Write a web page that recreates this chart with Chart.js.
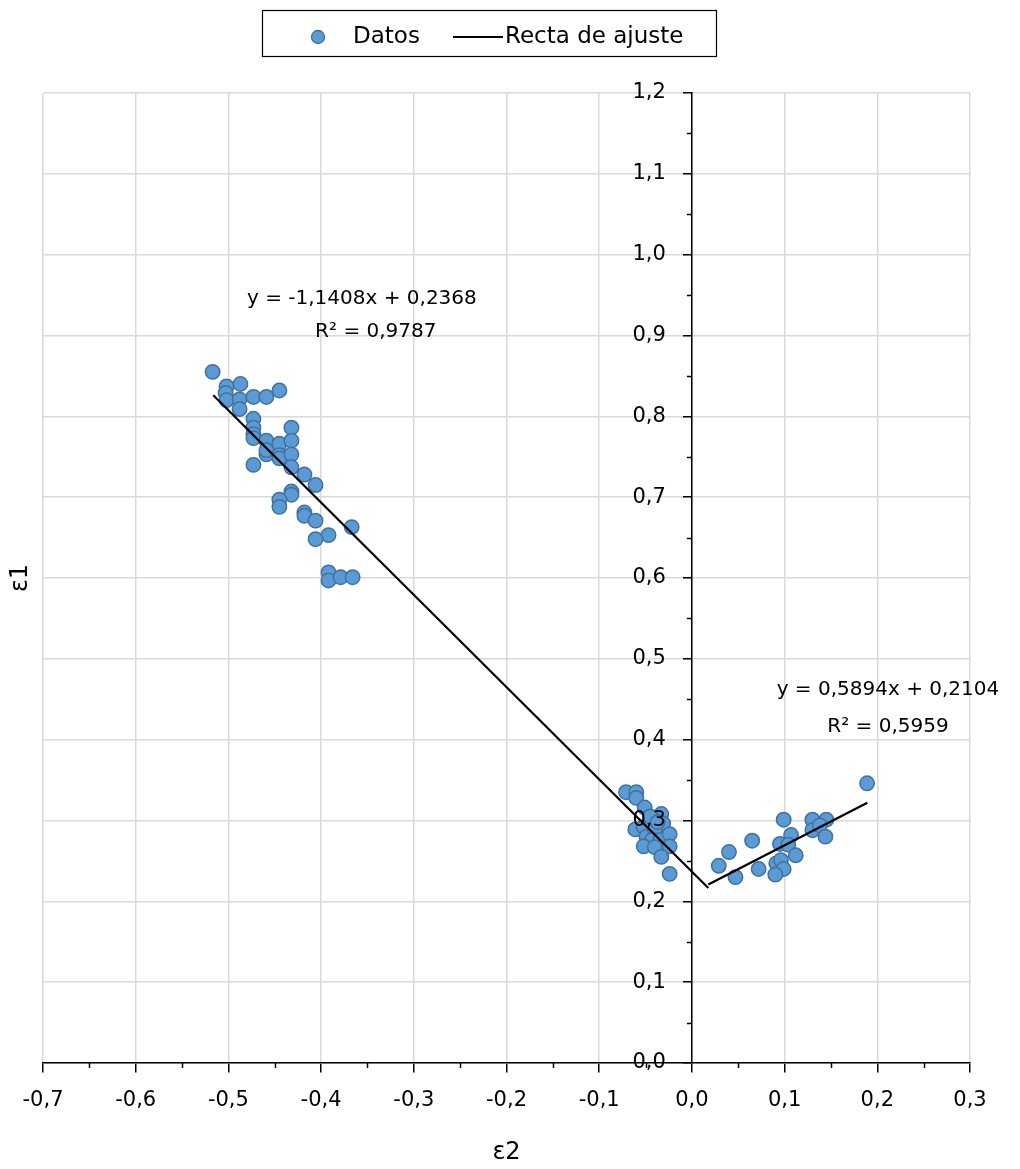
<!DOCTYPE html>
<html lang="es">
<head>
<meta charset="utf-8">
<title>ε1 frente a ε2</title>
<script src="https://cdn.jsdelivr.net/npm/chart.js@4.4.1/dist/chart.umd.min.js"></script>
<style>
  html, body { margin: 0; padding: 0; background: #fff; }
  #wrap { width: 1020px; height: 1169px; }
</style>
</head>
<body>
<div id="wrap"><canvas id="grafico" width="1020" height="1169"></canvas></div>
<script>
// puntos medidos (eps2, eps1)
const datosX = [
  -0.517, -0.502, -0.487, -0.503, -0.502, -0.488, -0.488, -0.473, -0.459, -0.445,
  -0.473, -0.473, -0.473, -0.473, -0.432, -0.459, -0.445, -0.432, -0.459, -0.459,
  -0.445, -0.445, -0.432, -0.473, -0.432, -0.418, -0.406, -0.432, -0.432, -0.445,
  -0.445, -0.418, -0.418, -0.406, -0.367, -0.392, -0.406, -0.392, -0.392, -0.379,
  -0.366,
  -0.071, -0.060, -0.060, -0.051, -0.033, -0.042, -0.061, -0.052, -0.031, -0.049,
  -0.040, -0.043, -0.034, -0.024, -0.052, -0.040, -0.024, -0.033, -0.024, -0.045,
  -0.037,
  0.189, 0.099, 0.130, 0.145, 0.130, 0.138, 0.107, 0.144, 0.095, 0.104,
  0.065, 0.040, 0.112, 0.029, 0.047, 0.072, 0.091, 0.096, 0.099, 0.090
];
const datosY = [
  0.855, 0.837, 0.840, 0.829, 0.820, 0.821, 0.809, 0.824, 0.824, 0.832,
  0.797, 0.786, 0.778, 0.773, 0.786, 0.770, 0.766, 0.770, 0.753, 0.758,
  0.752, 0.748, 0.753, 0.740, 0.737, 0.728, 0.715, 0.707, 0.703, 0.697,
  0.688, 0.681, 0.677, 0.671, 0.663, 0.653, 0.648, 0.607, 0.597, 0.601,
  0.601,
  0.335, 0.335, 0.328, 0.316, 0.308, 0.302, 0.289, 0.292, 0.296, 0.280,
  0.289, 0.276, 0.276, 0.283, 0.268, 0.267, 0.268, 0.255, 0.234, 0.305,
  0.298,
  0.346, 0.301, 0.301, 0.301, 0.288, 0.294, 0.282, 0.280, 0.271, 0.270,
  0.275, 0.261, 0.257, 0.244, 0.230, 0.240, 0.247, 0.251, 0.240, 0.233
];

// rectas de ajuste (extremos leidos)
const ajuste1X = [-0.5163, 0.0177];
const ajuste1Y = [0.826, 0.2166];
const ajuste2X = [0.0177, 0.1893];
const ajuste2Y = [0.2208, 0.322];

const xTicks = [-0.7, -0.6, -0.5, -0.4, -0.3, -0.2, -0.1, 0, 0.1, 0.2, 0.3];
const xTickLabels = ['-0,7', '-0,6', '-0,5', '-0,4', '-0,3', '-0,2', '-0,1', '0,0', '0,1', '0,2', '0,3'];
const yTicks = [0, 0.1, 0.2, 0.3, 0.4, 0.5, 0.6, 0.7, 0.8, 0.9, 1.0, 1.1, 1.2];
const yTickLabels = ['0,0', '0,1', '0,2', '0,3', '0,4', '0,5', '0,6', '0,7', '0,8', '0,9', '1,0', '1,1', '1,2'];

const ecuacion1 = ['y = -1,1408x + 0,2368', 'R² = 0,9787'];
const ecuacion1Pos = [[-0.356, 0.945], [-0.341, 0.905]];
const ecuacion2 = ['y = 0,5894x + 0,2104', 'R² = 0,5959'];
const ecuacion2Pos = [[0.2115, 0.4615], [0.2115, 0.4157]];

const FUENTE = '"DejaVu Sans", sans-serif';
const AZUL = '#5b9bd5';
const AZUL_BORDE = '#41719c';

function pares(xs, ys) {
  return xs.map((x, i) => ({ x: x, y: ys[i] }));
}

const extras = {
  id: 'extras',
  afterDraw(chart) {
    const ctx = chart.ctx;
    const sx = chart.scales.x, sy = chart.scales.y;
    const x0 = sx.getPixelForValue(0), y0 = sy.getPixelForValue(0);
    ctx.save();

    // marcas menores
    ctx.strokeStyle = '#000';
    ctx.lineWidth = 1.5;
    ctx.beginPath();
    for (let i = 0; i < xTicks.length - 1; i++) {
      const px = Math.round(sx.getPixelForValue((xTicks[i] + xTicks[i + 1]) / 2)) + 0.5;
      ctx.moveTo(px, y0);
      ctx.lineTo(px, y0 + 5);
    }
    for (let i = 0; i < yTicks.length - 1; i++) {
      const py = Math.round(sy.getPixelForValue((yTicks[i] + yTicks[i + 1]) / 2)) + 0.5;
      ctx.moveTo(x0, py);
      ctx.lineTo(x0 - 5, py);
    }
    ctx.stroke();

    // etiquetas del eje vertical (a la izquierda del eje en x = 0)
    ctx.fillStyle = '#000';
    ctx.font = '21px ' + FUENTE;
    ctx.textAlign = 'right';
    ctx.textBaseline = 'middle';
    yTicks.forEach((v, i) => {
      ctx.fillText(yTickLabels[i], x0 - 26, sy.getPixelForValue(v));
    });

    // ecuaciones
    ctx.font = '20px ' + FUENTE;
    ctx.textAlign = 'center';
    ecuacion1.forEach((t, i) => {
      ctx.fillText(t, sx.getPixelForValue(ecuacion1Pos[i][0]), sy.getPixelForValue(ecuacion1Pos[i][1]));
    });
    ecuacion2.forEach((t, i) => {
      ctx.fillText(t, sx.getPixelForValue(ecuacion2Pos[i][0]), sy.getPixelForValue(ecuacion2Pos[i][1]));
    });

    // titulos de ejes
    ctx.font = '24px ' + FUENTE;
    ctx.fillText('ε2', (chart.chartArea.left + chart.chartArea.right) / 2, 1153);
    ctx.save();
    ctx.translate(21, (chart.chartArea.top + chart.chartArea.bottom) / 2);
    ctx.rotate(-Math.PI / 2);
    ctx.fillText('ε1', 0, 0);
    ctx.restore();

    // leyenda
    ctx.lineWidth = 1.2;
    ctx.strokeStyle = '#000';
    ctx.strokeRect(262.5, 10.5, 454, 46);
    ctx.beginPath();
    ctx.arc(318, 37, 6.5, 0, Math.PI * 2);
    ctx.fillStyle = AZUL;
    ctx.fill();
    ctx.strokeStyle = AZUL_BORDE;
    ctx.lineWidth = 1.3;
    ctx.stroke();
    ctx.beginPath();
    ctx.moveTo(453, 37);
    ctx.lineTo(503, 37);
    ctx.strokeStyle = '#000';
    ctx.lineWidth = 2;
    ctx.stroke();
    ctx.fillStyle = '#000';
    ctx.font = '23px ' + FUENTE;
    ctx.textAlign = 'left';
    ctx.fillText('Datos', 353, 37);
    ctx.fillText('Recta de ajuste', 505, 37);

    ctx.restore();
  }
};

new Chart(document.getElementById('grafico'), {
  type: 'scatter',
  data: {
    datasets: [
      {
        label: 'Recta de ajuste',
        data: pares(ajuste1X, ajuste1Y),
        showLine: true,
        borderColor: '#000',
        borderWidth: 2.2,
        pointRadius: 0,
        order: 1
      },
      {
        label: 'Recta de ajuste 2',
        data: pares(ajuste2X, ajuste2Y),
        showLine: true,
        borderColor: '#000',
        borderWidth: 2.2,
        pointRadius: 0,
        order: 1
      },
      {
        label: 'Datos',
        data: pares(datosX, datosY),
        backgroundColor: AZUL,
        borderColor: AZUL_BORDE,
        borderWidth: 1.5,
        pointRadius: 7.2,
        order: 2
      }
    ]
  },
  options: {
    responsive: false,
    animation: false,
    devicePixelRatio: 1,
    layout: { padding: { left: 43, right: 50, top: 93, bottom: 106 } },
    plugins: {
      legend: { display: false },
      tooltip: { enabled: false }
    },
    scales: {
      x: {
        type: 'linear',
        min: -0.7,
        max: 0.3,
        position: { y: 0 },
        afterBuildTicks: (s) => { s.ticks = xTicks.map(v => ({ value: v })); },
        ticks: {
          callback: (v, i) => xTickLabels[i],
          font: { family: FUENTE, size: 21 },
          color: '#000',
          padding: 16,
          maxRotation: 0,
          autoSkip: false,
          z: 1
        },
        grid: { color: '#d9d9d9', lineWidth: 1.5, tickLength: 9, tickColor: '#000', tickWidth: 1.5 },
        border: { display: true, color: '#000', width: 1.5, z: 1 }
      },
      y: {
        type: 'linear',
        min: 0,
        max: 1.2,
        position: { x: 0 },
        afterBuildTicks: (s) => { s.ticks = yTicks.map(v => ({ value: v })); },
        ticks: { display: false },
        grid: { color: '#d9d9d9', lineWidth: 1.5, tickLength: 8, tickColor: '#000', tickWidth: 1.5 },
        border: { display: true, color: '#000', width: 1.5, z: 1 }
      }
    }
  },
  plugins: [extras]
});
</script>
</body>
</html>
